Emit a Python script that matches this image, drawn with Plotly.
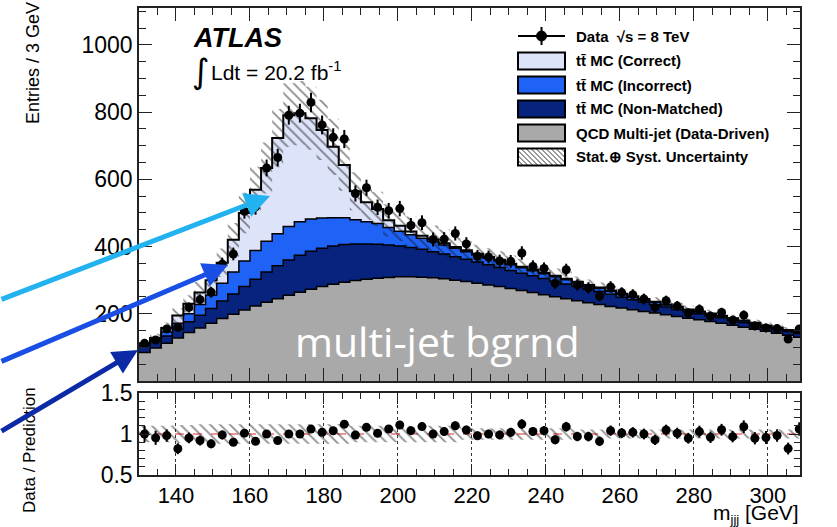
import numpy as np
import plotly.graph_objects as go

# ---------------- data ----------------
bin_low = 130.0
bin_width = 3.0          # GeV
n_bins = 60

qcd = [85, 98, 112, 128, 144, 158, 172, 186, 199, 211,
       223, 234, 245, 255, 264, 273, 281, 288, 294, 299,
       303, 306, 308, 310, 310, 309, 307, 304, 300, 296,
       291, 286, 281, 275, 269, 263, 257, 251, 245, 239,
       233, 228, 222, 217, 212, 207, 202, 197, 192, 187,
       182, 177, 172, 166, 160, 154, 148, 142, 136, 130]
non_matched = [20, 20, 22, 26, 32, 38, 44, 52, 60, 70,
               80, 90, 98, 105, 110, 113, 114, 114, 112, 109,
               105, 101, 97, 92, 87, 83, 78, 74, 70, 66,
               63, 60, 57, 54, 52, 50, 48, 46, 44, 42,
               40, 38, 36, 32, 30, 27, 25, 23, 21, 19,
               18, 17, 16, 15, 14, 13, 12, 12, 11, 11]
incorrect = [5, 7, 12, 18, 24, 32, 40, 53, 65, 76,
             85, 92, 95, 100, 100, 96, 90, 84, 80, 72,
             66, 62, 52, 44, 38, 33, 30, 27, 25, 23,
             21, 19, 19, 17, 16, 15, 14, 13, 12, 11,
             10, 10, 9, 9, 8, 8, 7, 7, 7, 6,
             6, 6, 5, 5, 5, 5, 4, 4, 4, 4]
correct = [2, 3, 12, 23, 30, 35, 44, 61, 96, 143,
           181, 218, 285, 331, 323, 300, 262, 211, 157, 85,
           58, 43, 21, 16, 10, 7, 6, 5, 4, 4,
           4, 4, 4, 3, 3, 3, 3, 3, 3, 3,
           3, 2, 2, 2, 2, 2, 2, 1, 1, 1,
           1, 1, 1, 1, 1, 1, 1, 1, 1, 1]
data = [112, 122, 155, 160, 219, 242, 264, 348, 378, 505,
        518, 634, 665, 791, 797, 829, 762, 725, 720, 558,
        575, 517, 507, 513, 463, 471, 421, 422, 439, 408,
        371, 369, 357, 356, 381, 341, 335, 291, 331, 286,
        277, 253, 280, 263, 257, 244, 219, 239, 223, 202,
        213, 193, 204, 181, 196, 164, 158, 156, 125, 155]
data_err = [11, 11, 12, 13, 15, 16, 16, 19, 19, 22,
            23, 25, 26, 28, 28, 29, 28, 27, 27, 24,
            24, 23, 23, 23, 22, 22, 21, 21, 21, 20,
            19, 19, 19, 19, 20, 18, 18, 17, 18, 17,
            17, 16, 17, 16, 16, 16, 15, 15, 15, 14,
            15, 14, 14, 13, 14, 13, 13, 12, 11, 12]
unc_rel = [0.10, 0.10, 0.10, 0.11, 0.11, 0.12, 0.12, 0.12, 0.12, 0.12,
           0.12, 0.12, 0.12, 0.12, 0.12, 0.12, 0.12, 0.12, 0.12, 0.10,
           0.10, 0.10, 0.10, 0.10, 0.10, 0.10, 0.10, 0.10, 0.10, 0.07,
           0.07, 0.07, 0.07, 0.07, 0.07, 0.07, 0.07, 0.07, 0.07, 0.055,
           0.055, 0.055, 0.055, 0.055, 0.055, 0.055, 0.055, 0.055, 0.055, 0.055,
           0.055, 0.055, 0.055, 0.055, 0.055, 0.055, 0.055, 0.055, 0.055, 0.055]
y_ticks_main = [200, 400, 600, 800, 1000]
y_ticks_ratio = [0.5, 1.0, 1.5]
y_ticklabels_ratio = ["0.5", "1", "1.5"]

# ---------------- derived ----------------
edges = bin_low + bin_width * np.arange(n_bins + 1)
centers = edges[:-1] + bin_width / 2
c1 = np.array(qcd, float)
c2 = c1 + np.array(non_matched, float)
c3 = c2 + np.array(incorrect, float)
c4 = c3 + np.array(correct, float)
u = np.array(unc_rel)
d = np.array(data, float)
de = np.array(data_err, float)
ratio = d / c4
ratio_err = de / c4


def step(v):
    v = np.asarray(v, float)
    return np.append(v, v[-1])


W, H = 837, 527
ML, MR, MT, MB = 139, 37, 8, 52
PW, PH = W - ML - MR, H - MT - MB


def px(x):
    return (x - ML) / PW


def py(y):
    return (H - MB - y) / PH


GRAY = "#a9a9a9"
NAVY = "#07237e"
BLUE = "#1f62f6"
LIGHT = "#dde3f9"
FONT = "Liberation Sans, Arial, Helvetica, sans-serif"
HATCH = dict(shape="\\", fgcolor="#111111", bgcolor="rgba(0,0,0,0)", size=7, solidity=0.24,
             fillmode="overlay")

fig = go.Figure()
common = dict(mode="lines", hoverinfo="skip", showlegend=False)

fig.add_trace(go.Scatter(x=edges, y=step(c1), line=dict(shape="hv", color="black", width=1.5),
                         fill="tozeroy", fillcolor=GRAY, xaxis="x", yaxis="y", **common))
fig.add_trace(go.Scatter(x=edges, y=step(c2), line=dict(shape="hv", color="black", width=1.5),
                         fill="tonexty", fillcolor=NAVY, xaxis="x", yaxis="y", **common))
fig.add_trace(go.Scatter(x=edges, y=step(c3), line=dict(shape="hv", color="black", width=1.5),
                         fill="tonexty", fillcolor=BLUE, xaxis="x", yaxis="y", **common))
fig.add_trace(go.Scatter(x=edges, y=step(c4), line=dict(shape="hv", color="black", width=2),
                         fill="tonexty", fillcolor=LIGHT, xaxis="x", yaxis="y", **common))
# uncertainty band (main)
fig.add_trace(go.Scatter(x=edges, y=step(c4 * (1 - u)), line=dict(shape="hv", width=0),
                         xaxis="x", yaxis="y", **common))
fig.add_trace(go.Scatter(x=edges, y=step(c4 * (1 + u)), line=dict(shape="hv", width=0),
                         fill="tonexty", fillcolor="rgba(0,0,0,0)", fillpattern=HATCH,
                         xaxis="x", yaxis="y", **common))
# data
fig.add_trace(go.Scatter(x=centers, y=d, mode="markers", marker=dict(color="black", size=9),
                         error_y=dict(type="data", array=de, color="black", thickness=2, width=0),
                         xaxis="x", yaxis="y", hoverinfo="skip", showlegend=False))

# ratio panel
fig.add_trace(go.Scatter(x=[edges[0], edges[-1]], y=[1, 1], line=dict(color="#f07070", width=1.5, dash="dash"),
                         xaxis="x2", yaxis="y2", **common))
fig.add_trace(go.Scatter(x=edges, y=step(1 - u), line=dict(shape="hv", width=0),
                         xaxis="x2", yaxis="y2", **common))
fig.add_trace(go.Scatter(x=edges, y=step(1 + u), line=dict(shape="hv", width=0),
                         fill="tonexty", fillcolor="rgba(0,0,0,0)", fillpattern=HATCH,
                         xaxis="x2", yaxis="y2", **common))
fig.add_trace(go.Scatter(x=centers, y=ratio, mode="markers", marker=dict(color="black", size=9),
                         error_y=dict(type="data", array=ratio_err, color="black", thickness=2, width=0),
                         xaxis="x2", yaxis="y2", hoverinfo="skip", showlegend=False))

xr = [130, 308.7]
axis_common = dict(showline=True, linecolor="#222", linewidth=1.5, mirror="ticks", ticks="inside",
                   tickcolor="#222", zeroline=False)
fig.update_layout(
    width=W, height=H, template="none",
    margin=dict(l=ML, r=MR, t=MT, b=MB),
    paper_bgcolor="white", plot_bgcolor="white",
    font=dict(family=FONT, color="black"),
    xaxis=dict(domain=[0, 1], range=xr, anchor="y", showticklabels=False, dtick=20, tick0=0,
               ticklen=13, showgrid=False,
               minor=dict(dtick=5, tick0=0, ticklen=7, ticks="inside", tickcolor="#222", showgrid=False),
               **axis_common),
    yaxis=dict(domain=[py(381), 1], range=[0, 1110], anchor="x", tickmode="array", tickvals=y_ticks_main,
               ticklen=13, showgrid=False, tickfont=dict(size=23, family=FONT),
               minor=dict(dtick=50, tick0=0, ticklen=7, ticks="inside", tickcolor="#222", showgrid=False),
               **axis_common),
    xaxis2=dict(domain=[0, 1], range=xr, anchor="y2", dtick=20, tick0=0, ticklen=11,
                showgrid=True, griddash="dot", gridcolor="#333", gridwidth=1,
                tickfont=dict(size=22, family=FONT),
                minor=dict(dtick=5, tick0=0, ticklen=6, ticks="inside", tickcolor="#222", showgrid=False),
                **axis_common),
    yaxis2=dict(domain=[0, py(393)], range=[0.5, 1.5], anchor="x2", tickmode="array",
                tickvals=y_ticks_ratio, ticktext=y_ticklabels_ratio, ticklen=11, showgrid=False,
                tickfont=dict(size=23, family=FONT),
                minor=dict(dtick=0.1, tick0=0, ticklen=6, ticks="inside", tickcolor="#222", showgrid=False),
                **axis_common),
)

ann = []
shapes = []

# axis titles
ann.append(dict(text="Entries / 3 GeV", x=px(33), y=py(63), xref="paper", yref="paper", showarrow=False,
                textangle=-90, xanchor="center", yanchor="middle", font=dict(size=18, family=FONT)))
ann.append(dict(text="Data / Prediction", x=px(29), y=py(450), xref="paper", yref="paper", showarrow=False,
                textangle=-90, xanchor="center", yanchor="middle", font=dict(size=17, family=FONT)))
ann.append(dict(text="m<sub><span style='font-size:13px'>jjj</span></sub> [GeV]", x=px(801), y=py(514),
                xref="paper", yref="paper", showarrow=False, xanchor="right", yanchor="middle",
                font=dict(size=21, family=FONT)))

# ATLAS label
ann.append(dict(text="<b><i>ATLAS</i></b>", x=px(191), y=py(38), xref="paper", yref="paper", showarrow=False,
                xanchor="left", yanchor="middle", font=dict(size=27, family=FONT)))
ann.append(dict(text="∫", x=px(190), y=py(71), xref="paper", yref="paper", showarrow=False,
                xanchor="left", yanchor="middle", font=dict(size=34, family="DejaVu Sans")))
ann.append(dict(text="Ldt = 20.2 fb<sup>-1</sup>", x=px(209), y=py(71), xref="paper", yref="paper",
                showarrow=False, xanchor="left", yanchor="middle", font=dict(size=21, family=FONT)))

# legend
LX0, LX1, TX = 518, 565, 574
legend_rows = [
    ("Data  √s = 8 TeV", None, 36),
    ("tt\u0304 MC (Correct)", LIGHT, 61),
    ("tt\u0304 MC (Incorrect)", BLUE, 85),
    ("tt\u0304 MC (Non-Matched)", NAVY, 109),
    ("QCD Multi-jet (Data-Driven)", GRAY, 133),
    ("Stat.⊕ Syst. Uncertainty", "hatch", 157),
]
for label, col, yc in legend_rows:
    ann.append(dict(text="<b>" + label + "</b>", x=px(TX), y=py(yc), xref="paper", yref="paper",
                    showarrow=False, xanchor="left", yanchor="middle", font=dict(size=15, family=FONT)))
    if col is None:
        shapes.append(dict(type="line", xref="paper", yref="paper", x0=px(LX0), x1=px(LX1),
                           y0=py(yc), y1=py(yc), line=dict(color="black", width=2)))
        shapes.append(dict(type="line", xref="paper", yref="paper", x0=px(541.5), x1=px(541.5),
                           y0=py(yc - 9), y1=py(yc + 9), line=dict(color="black", width=2)))
        shapes.append(dict(type="circle", xref="paper", yref="paper", x0=px(536.5), x1=px(546.5),
                           y0=py(yc - 5), y1=py(yc + 5), fillcolor="black", line=dict(color="black", width=1)))
    else:
        y0, y1 = yc - 8.5, yc + 8.5
        if col == "hatch":
            segs = []
            hgt = y1 - y0
            xs = LX0 - hgt
            while xs < LX1:
                xa, ya = xs, y0
                xb, yb = xs + hgt, y1
                if xa < LX0:
                    ya = y0 + (LX0 - xa)
                    xa = LX0
                if xb > LX1:
                    yb = y1 - (xb - LX1)
                    xb = LX1
                segs.append("M %.5f %.5f L %.5f %.5f" % (px(xa), py(ya), px(xb), py(yb)))
                xs += 5
            shapes.append(dict(type="path", xref="paper", yref="paper", path=" ".join(segs),
                               line=dict(color="#333", width=1)))
            shapes.append(dict(type="rect", xref="paper", yref="paper", x0=px(LX0), x1=px(LX1),
                               y0=py(y1), y1=py(y0), line=dict(color="black", width=2)))
        else:
            shapes.append(dict(type="rect", xref="paper", yref="paper", x0=px(LX0), x1=px(LX1),
                               y0=py(y1), y1=py(y0), fillcolor=col, line=dict(color="black", width=2)))

# overlay text
ann.append(dict(text="multi-jet bgrnd", x=px(437), y=py(341), xref="paper", yref="paper", showarrow=False,
                xanchor="center", yanchor="middle", font=dict(size=41, family="Open Sans", color="white")))

# arrows
arrows = [((0, 300), (270, 196), "#22b2f0"),
          ((0, 362), (228, 265), "#1a4fe6"),
          ((0, 432), (138, 350), "#0c2aa6")]
for (tx, ty), (hx, hy), col in arrows:
    ann.append(dict(text="", x=px(hx), y=py(hy), xref="paper", yref="paper", showarrow=True,
                    ax=tx - hx, ay=ty - hy, axref="pixel", ayref="pixel", arrowhead=2, arrowsize=1.0,
                    arrowwidth=5, arrowcolor=col, standoff=0))

fig.update_layout(annotations=ann, shapes=shapes)
fig.write_html("out.html")
